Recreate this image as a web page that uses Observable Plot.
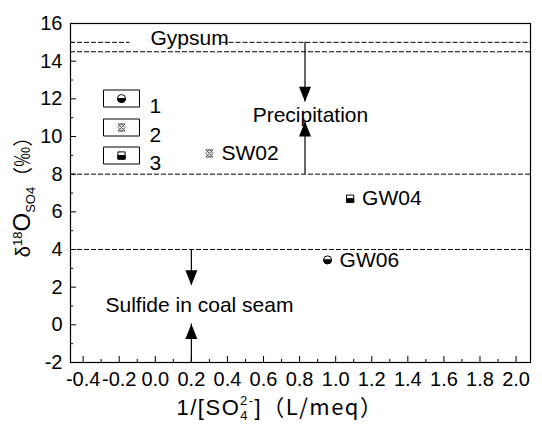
<!DOCTYPE html>
<html><head><meta charset="utf-8">
<script src="https://cdn.jsdelivr.net/npm/d3@7"></script>
<script src="https://cdn.jsdelivr.net/npm/@observablehq/plot@0.6"></script>
<style>
body{margin:0;background:#fff}
#chart svg{font-family:"Liberation Sans",Arial,sans-serif;background:#fff}
</style>
</head><body><div id="chart"></div>
<script>
// ---- data ----
const sampleNames = ["SW02", "GW04", "GW06"];
const invSulfate = [0.30, 1.08, 0.955];      // 1/[SO4 2-] (L/meq)
const d18O = [9.1, 6.7, 3.45];               // δ18O SO4 (‰)
const sampleType = ["2", "3", "1"];
const legendLabels = ["1", "2", "3"];

const xTicks = [-0.4, -0.2, 0.0, 0.2, 0.4, 0.6, 0.8, 1.0, 1.2, 1.4, 1.6, 1.8, 2.0];
const xMinor = [-0.3, -0.1, 0.1, 0.3, 0.5, 0.7, 0.9, 1.1, 1.3, 1.5, 1.7, 1.9];
const yTicks = [-2, 0, 2, 4, 6, 8, 10, 12, 14, 16];
const yMinor = [-1, 1, 3, 5, 7, 9, 11, 13, 15];

// dashed boundary lines (y level, from x, to x)
const lineLevels = [15, 15, 14.5, 8, 4];
const lineStart = [-0.47, 0.37, -0.47, -0.47, -0.47];
const lineEnd = [-0.14, 2.08, 2.08, 2.08, 2.08];

// arrows (x, from y, to y)
const arrowX = [0.83, 0.83, 0.2, 0.2];
const arrowFrom = [15, 8, 4, -2];
const arrowTo = [11.85, 10.8, 2.1, 0.05];

// annotation texts
const noteText = ["Gypsum", "Precipitation", "Sulfide in coal seam"];
const noteX = [0.19, 0.86, 0.245];
const noteY = [15.2, 11.15, 1.05];

// ---- build tables ----
const pts = sampleNames.map((name, i) => ({name, x: invSulfate[i], y: d18O[i], type: sampleType[i]}));
const lines = lineLevels.map((y, i) => ({y, x1: lineStart[i], x2: lineEnd[i]}));
const arrows = arrowX.map((x, i) => ({x, y1: arrowFrom[i], y2: arrowTo[i], dir: arrowTo[i] < arrowFrom[i] ? "down" : "up"}));
const notes = noteText.map((t, i) => ({t, x: noteX[i], y: noteY[i]}));

// ---- custom symbols ----
const sq = {draw(c, size) { const s = Math.sqrt(size / Math.PI); c.rect(-s, -s, 2 * s, 2 * s); }};
const sqBottom = {draw(c, size) { const s = Math.sqrt(size / Math.PI); c.rect(-s, 0, 2 * s, s); }};
const circBottom = {draw(c, size) { const r = Math.sqrt(size / Math.PI); c.moveTo(r, 0); c.arc(0, 0, r, 0, Math.PI); c.closePath(); }};
const hatch = {draw(c, size) {
  const s = Math.sqrt(size / Math.PI);
  c.moveTo(-s, -s); c.lineTo(s, s);
  c.moveTo(s, -s); c.lineTo(-s, s);
  c.moveTo(0, -s); c.lineTo(s, 0); c.lineTo(0, s); c.lineTo(-s, 0); c.closePath();
  c.moveTo(-s, -s); c.lineTo(s, -s); c.moveTo(-s, s); c.lineTo(s, s);
}};
const headDown = {draw(c) { c.moveTo(0, 0); c.lineTo(-6, -15); c.lineTo(6, -15); c.closePath(); }};
const headUp = {draw(c) { c.moveTo(0, 0); c.lineTo(-6, 15); c.lineTo(6, 15); c.closePath(); }};
const legendBox = {draw(c) { c.rect(-18, -8.5, 36, 17); }};

function markerMarks(data, type, opts = {}) {
  if (type === "1") return [
    Plot.dot(data, {...opts, symbol: "circle", r: 4, fill: "white", stroke: "black", strokeWidth: 1}),
    Plot.dot(data, {...opts, symbol: circBottom, r: 4, fill: "black", stroke: "black", strokeWidth: 1})
  ];
  if (type === "3") return [
    Plot.dot(data, {...opts, symbol: sq, r: 3.6, fill: "white", stroke: "black", strokeWidth: 1}),
    Plot.dot(data, {...opts, symbol: sqBottom, r: 3.6, fill: "black", stroke: "black", strokeWidth: 1})
  ];
  return [Plot.dot(data, {...opts, symbol: hatch, r: 3.6, fill: "none", stroke: "#333", strokeWidth: 0.8})];
}

const fmt = d => d.toFixed(1);
const legendDy = [75, 104, 132];

const chart = Plot.plot({
  width: 542, height: 425,
  marginLeft: 70, marginRight: 12, marginTop: 23, marginBottom: 63,
  style: {fontSize: "20px", fontFamily: "Liberation Sans, Arial, sans-serif", color: "black"},
  x: {domain: [-0.47, 2.08]},
  y: {domain: [-2, 16]},
  marks: [
    Plot.ruleY(lines, {y: "y", x1: "x1", x2: "x2", stroke: "black", strokeWidth: 1, strokeDasharray: "5,2"}),
    Plot.ruleX(arrows, {x: "x", y1: "y1", y2: "y2", stroke: "black", strokeWidth: 1.2}),
    Plot.dot(arrows.filter(d => d.dir === "down"), {x: "x", y: "y2", symbol: headDown, fill: "black", stroke: "none"}),
    Plot.dot(arrows.filter(d => d.dir === "up"), {x: "x", y: "y2", symbol: headUp, fill: "black", stroke: "none"}),
    Plot.text(notes, {x: "x", y: "y", text: "t", fontSize: 21, fill: "black"}),
    ...["1", "2", "3"].flatMap(t => markerMarks(pts.filter(d => d.type === t), t, {x: "x", y: "y"})),
    Plot.text(pts, {x: "x", y: "y", text: "name", textAnchor: "start", dx: 12, fontSize: 21, fill: "black"}),
    ...legendLabels.flatMap((lab, i) => [
      Plot.dot([lab], {frameAnchor: "top-left", dx: 51, dy: legendDy[i], symbol: legendBox, fill: "white", stroke: "black", strokeWidth: 1}),
      ...markerMarks([lab], lab, {frameAnchor: "top-left", dx: 51, dy: legendDy[i]}),
      Plot.text([lab], {frameAnchor: "top-left", dx: 79, dy: legendDy[i], text: d => d, textAnchor: "start", fontSize: 21, fill: "black"})
    ]),
    Plot.axisX(xTicks, {tickSize: -6, tickPadding: 15, tickFormat: fmt, label: null, fontSize: 20}),
    Plot.axisX(xMinor, {tickSize: -3, tickFormat: () => "", label: null}),
    Plot.axisY(yTicks, {tickSize: -6, tickPadding: 14, tickFormat: d => String(d), label: null, fontSize: 20}),
    Plot.axisY(yMinor, {tickSize: -3, tickFormat: () => "", label: null}),
    Plot.frame({stroke: "black", strokeWidth: 1.2})
  ]
});
document.getElementById("chart").append(chart);

// axis titles with sub/superscripts
const svg = d3.select(chart);
const yt = svg.append("text").attr("transform", "translate(30,192) rotate(-90)")
  .attr("text-anchor", "middle").attr("fill", "black").attr("font-size", 20);
yt.append("tspan").text("δ");
yt.append("tspan").attr("font-size", 13).attr("dy", -8).text("18");
yt.append("tspan").attr("font-size", 24).attr("dy", 8).text("O");
yt.append("tspan").attr("font-size", 13).attr("dy", 5).text("SO4");
yt.append("tspan").attr("font-size", 20).attr("dy", -5).attr("font-family", "Noto Sans CJK SC").text("（‰）");

const xt = svg.append("text").attr("x", 280).attr("y", 415)
  .attr("text-anchor", "middle").attr("fill", "black").attr("font-size", 22)
  .attr("letter-spacing", 1.5);
xt.append("tspan").text("1/[SO");
xt.append("tspan").attr("font-size", 13).attr("dy", 5).text("4");
xt.append("tspan").attr("font-size", 13).attr("dy", -15).attr("dx", -9).text("2-");
xt.append("tspan").attr("dy", 10).text("]");
xt.append("tspan").attr("font-family", "Noto Sans CJK SC").text("（L/meq）");
</script>
</body></html>
